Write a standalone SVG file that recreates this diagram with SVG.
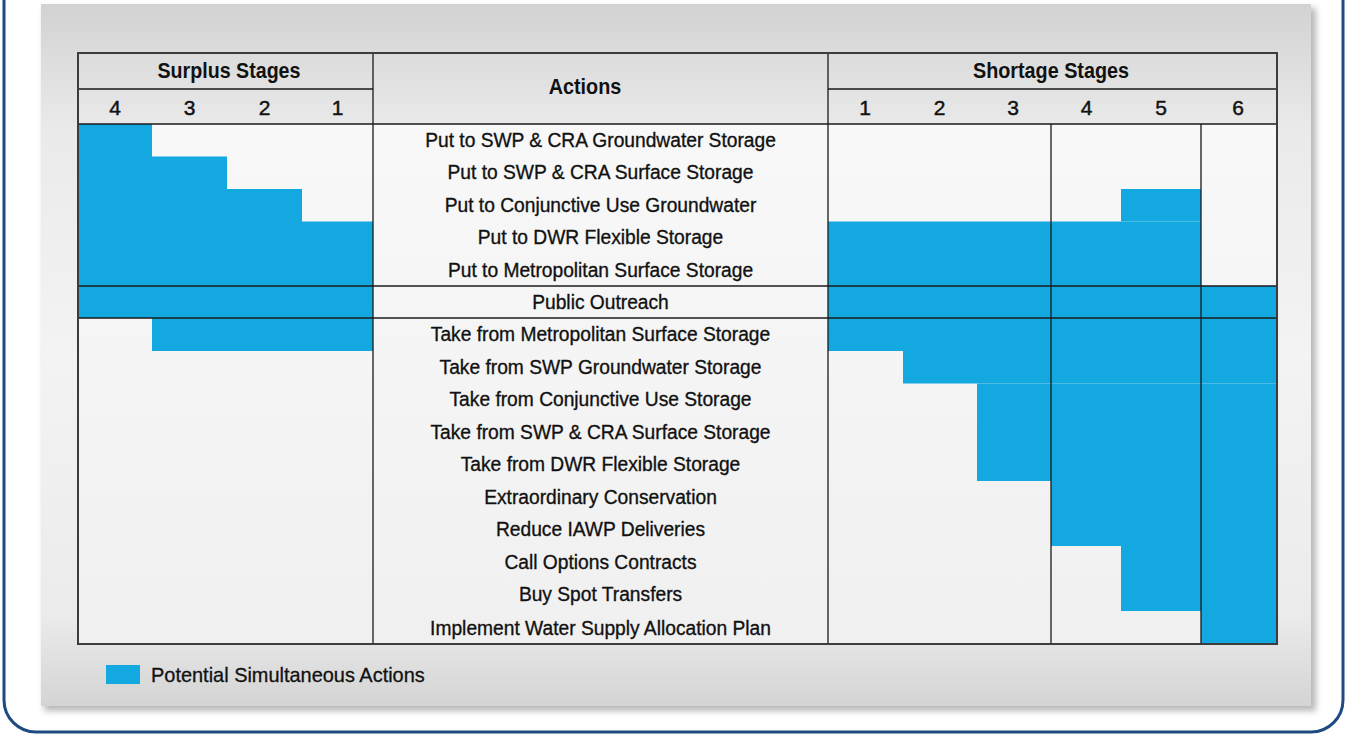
<svg xmlns="http://www.w3.org/2000/svg" width="1346" height="734" viewBox="0 0 1346 734">
<defs>
<linearGradient id="panelGrad" x1="0" y1="0" x2="0" y2="1">
<stop offset="0" stop-color="#d2d2d2"/>
<stop offset="0.18" stop-color="#eaeaea"/>
<stop offset="0.5" stop-color="#f3f3f3"/>
<stop offset="0.87" stop-color="#ebebeb"/>
<stop offset="1" stop-color="#d4d4d4"/>
</linearGradient>
<linearGradient id="bodyGrad" x1="0" y1="0" x2="0" y2="1">
<stop offset="0" stop-color="#f8f8f8"/>
<stop offset="1" stop-color="#f0f0f0"/>
</linearGradient>
<filter id="shadow" x="-5%" y="-5%" width="110%" height="110%">
<feGaussianBlur stdDeviation="3"/>
</filter>
</defs>
<style>
.blue{fill:#14a8e0;}
.grid{stroke:#1a1a1a;stroke-width:1.3;fill:none;}
.border{stroke:#3c3c3c;stroke-width:2;fill:none;}
.act{font-family:"Liberation Sans",Arial,sans-serif;font-size:21px;fill:#111;stroke:#111;stroke-width:0.35;text-anchor:middle;}
.num{font-family:"Liberation Sans",Arial,sans-serif;font-size:21px;fill:#111;stroke:#111;stroke-width:0.45;text-anchor:middle;}
.head{font-family:"Liberation Sans",Arial,sans-serif;font-size:22px;font-weight:bold;fill:#111;text-anchor:middle;}
.legend{font-family:"Liberation Sans",Arial,sans-serif;font-size:21px;fill:#111;stroke:#111;stroke-width:0.3;}
</style>
<rect width="1346" height="734" fill="#ffffff"/>
<rect x="4" y="-40" width="1339" height="772" rx="32" ry="32" fill="none" stroke="#1d4a80" stroke-width="3"/>
<g id="panel">
<rect x="44" y="8" width="1272" height="703" fill="#b8b8b8" filter="url(#shadow)"/>
<rect x="41" y="4" width="1270" height="702" fill="url(#panelGrad)"/>
</g>
<g id="table">
<rect x="78" y="124" width="1199" height="520" fill="url(#bodyGrad)"/>
<g id="cells-surplus">
<rect class="blue" x="78" y="124" width="74" height="162"/>
<rect class="blue" x="152" y="156.5" width="75" height="129.5"/>
<rect class="blue" x="227" y="189" width="75" height="97"/>
<rect class="blue" x="302" y="221.5" width="71" height="64.5"/>
<rect class="blue" x="78" y="286" width="295" height="32"/>
<rect class="blue" x="152" y="318" width="221" height="33"/>
</g>
<g id="cells-shortage">
<rect class="blue" x="1121" y="189" width="80" height="32.5"/>
<rect class="blue" x="828" y="221.5" width="373" height="64.5"/>
<rect class="blue" x="828" y="286" width="449" height="65"/>
<rect class="blue" x="903" y="351" width="374" height="32.5"/>
<rect class="blue" x="977" y="383.5" width="300" height="97.5"/>
<rect class="blue" x="1051" y="481" width="226" height="65"/>
<rect class="blue" x="1121" y="546" width="156" height="65"/>
<rect class="blue" x="1201" y="611" width="76" height="33"/>
</g>
<g id="gridlines">
<line class="grid" x1="78" y1="89" x2="373" y2="89"/>
<line class="grid" x1="828" y1="89" x2="1277" y2="89"/>
<line class="grid" x1="78" y1="124" x2="1277" y2="124"/>
<line class="grid" x1="78" y1="286" x2="1277" y2="286"/>
<line class="grid" x1="78" y1="318" x2="1277" y2="318"/>
<line class="grid" x1="373" y1="53" x2="373" y2="644"/>
<line class="grid" x1="828" y1="53" x2="828" y2="644"/>
<line class="grid" x1="1051" y1="124" x2="1051" y2="644"/>
<line class="grid" x1="1201" y1="124" x2="1201" y2="644"/>
<rect class="border" x="78" y="53" width="1199" height="591"/>
</g>
</g>
<g id="header">
<text class="head" transform="translate(229,78) scale(0.893,1)">Surplus Stages</text>
<text class="head" transform="translate(585,94) scale(0.9,1)">Actions</text>
<text class="head" transform="translate(1051,78) scale(0.9,1)">Shortage Stages</text>
<text class="num" x="115" y="115">4</text>
<text class="num" x="189.5" y="115">3</text>
<text class="num" x="264.5" y="115">2</text>
<text class="num" x="337.5" y="115">1</text>
<text class="num" x="865" y="115">1</text>
<text class="num" x="939.5" y="115">2</text>
<text class="num" x="1013" y="115">3</text>
<text class="num" x="1086.5" y="115">4</text>
<text class="num" x="1161" y="115">5</text>
<text class="num" x="1238" y="115">6</text>
</g>
<g id="actions" transform="translate(600.5,0) scale(0.915,1)">
<text class="act" x="0" y="147">Put to SWP &amp; CRA Groundwater Storage</text>
<text class="act" x="0" y="179.5">Put to SWP &amp; CRA Surface Storage</text>
<text class="act" x="0" y="212">Put to Conjunctive Use Groundwater</text>
<text class="act" x="0" y="244.5">Put to DWR Flexible Storage</text>
<text class="act" x="0" y="277">Put to Metropolitan Surface Storage</text>
<text class="act" x="0" y="309">Public Outreach</text>
<text class="act" x="0" y="341">Take from Metropolitan Surface Storage</text>
<text class="act" x="0" y="374">Take from SWP Groundwater Storage</text>
<text class="act" x="0" y="406.5">Take from Conjunctive Use Storage</text>
<text class="act" x="0" y="439">Take from SWP &amp; CRA Surface Storage</text>
<text class="act" x="0" y="471.5">Take from DWR Flexible Storage</text>
<text class="act" x="0" y="504">Extraordinary Conservation</text>
<text class="act" x="0" y="536.5">Reduce IAWP Deliveries</text>
<text class="act" x="0" y="569">Call Options Contracts</text>
<text class="act" x="0" y="601.5">Buy Spot Transfers</text>
<text class="act" x="0" y="635">Implement Water Supply Allocation Plan</text>
</g>
<g id="legend">
<rect class="blue" x="106" y="665" width="34" height="19"/>
<text class="legend" transform="translate(151,682) scale(0.95,1)">Potential Simultaneous Actions</text>
</g>
</svg>
